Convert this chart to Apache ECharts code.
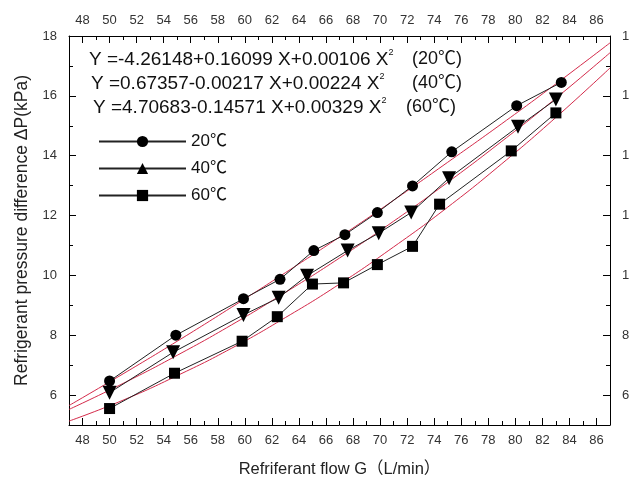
<!DOCTYPE html>
<html>
<head>
<meta charset="utf-8">
<script src="https://cdn.jsdelivr.net/npm/echarts@6/dist/echarts.min.js"></script>
<style>
  html, body { margin: 0; padding: 0; background: #fff; }
  #chart { width: 629px; height: 479px; }
</style>
</head>
<body>
<div id="chart"></div>
<script>
// tick labels
var xTicks = [48, 50, 52, 54, 56, 58, 60, 62, 64, 66, 68, 70, 72, 74, 76, 78, 80, 82, 84, 86];
var xMinor = [49, 51, 53, 55, 57, 59, 61, 63, 65, 67, 69, 71, 73, 75, 77, 79, 81, 83, 85];
var yTicks = [6, 8, 10, 12, 14, 16, 18];
var yMinor = [5, 7, 9, 11, 13, 15, 17];

// measured points
var x20 = [50, 54.9, 59.9, 62.6, 65.1, 67.4, 69.8, 72.4, 75.3, 80.1, 83.4];
var y20 = [6.47, 8.0, 9.22, 9.87, 10.83, 11.36, 12.1, 12.99, 14.13, 15.67, 16.45];
var x40 = [50, 54.7, 59.9, 62.5, 64.6, 67.6, 69.9, 72.3, 75.1, 80.2, 83.0];
var y40 = [6.08, 7.43, 8.68, 9.25, 9.99, 10.83, 11.41, 12.1, 13.25, 14.97, 15.88];
var x60 = [50, 54.8, 59.8, 62.4, 65.0, 67.3, 69.8, 72.4, 74.4, 79.7, 83.0];
var y60 = [5.55, 6.73, 7.8, 8.62, 9.71, 9.75, 10.36, 10.97, 12.38, 14.16, 15.43];

// fitted curves (red)
var xFit = [47, 51, 55, 59, 63, 67, 71, 75, 79, 83, 87];
var fit20 = [5.65, 6.71, 7.80, 8.93, 10.09, 11.28, 12.51, 13.78, 15.07, 16.40, 17.77];
var fit40 = [5.52, 6.39, 7.33, 8.34, 9.43, 10.58, 11.81, 13.11, 14.48, 15.92, 17.44];
var fit60 = [5.13, 5.83, 6.65, 7.56, 8.59, 9.71, 10.95, 12.28, 13.73, 15.28, 16.93];

var names = ['20℃', '40℃', '60℃'];
var equations = [
  'Y =-4.26148+0.16099 X+0.00106 X',
  'Y =0.67357-0.00217 X+0.00224 X',
  'Y =4.70683-0.14571 X+0.00329 X'
];

var FONT = '"Liberation Sans", Arial, "Noto Sans CJK SC", sans-serif';

function pairs(xs, ys) {
  var out = [];
  for (var i = 0; i < xs.length; i++) out.push([xs[i], ys[i]]);
  return out;
}

function xAxisDef(pos, minor, withName) {
  var a = {
    type: 'value', position: pos, min: 47, max: 87, gridIndex: 0,
    axisLine: { show: !minor, onZero: false, lineStyle: { color: '#000', width: 1 } },
    axisTick: { show: true, inside: true, length: minor ? 4 : 7,
      customValues: minor ? xMinor : xTicks, lineStyle: { color: '#000' } },
    axisLabel: { show: !minor, customValues: xTicks, color: '#333', fontSize: 13,
      fontFamily: FONT, margin: 9 },
    splitLine: { show: false }
  };
  if (withName) {
    a.name = 'Refriferant flow G（L/min）';
    a.nameLocation = 'middle';
    a.nameGap = 36;
    a.nameTextStyle = { fontSize: 16.5, color: '#222', fontFamily: FONT };
  }
  return a;
}

function yAxisDef(pos, minor, withName) {
  var a = {
    type: 'value', position: pos, min: 5, max: 18, gridIndex: 0,
    axisLine: { show: !minor, onZero: false, lineStyle: { color: '#000', width: 1 } },
    axisTick: { show: true, inside: true, length: minor ? 4 : 7,
      customValues: minor ? yMinor : yTicks, lineStyle: { color: '#000' } },
    axisLabel: { show: !minor, customValues: yTicks, color: '#333', fontSize: 13,
      fontFamily: FONT, margin: 12 },
    splitLine: { show: false }
  };
  if (withName) {
    a.name = 'Refrigerant pressure difference ΔP(kPa)';
    a.nameLocation = 'middle';
    a.nameGap = 38;
    a.nameTextStyle = { fontSize: 17.5, color: '#222', fontFamily: FONT };
  }
  return a;
}

var chart = echarts.init(document.getElementById('chart'), null, { renderer: 'canvas' });

var eqGraphics = [];
var eqPos = [[89, 48], [91, 72], [93, 96]];
var tagPos = [[412, 50], [412, 74], [406, 98]];
for (var i = 0; i < 3; i++) {
  eqGraphics.push({
    type: 'text', left: eqPos[i][0], top: eqPos[i][1],
    style: {
      text: equations[i] + '{sup|2}',
      fill: '#111', font: '19px ' + FONT,
      rich: { sup: { fontSize: 9, fontFamily: FONT, fill: '#111', padding: [0, 0, 14, 0] } }
    }
  });
  eqGraphics.push({
    type: 'text', left: tagPos[i][0], top: tagPos[i][1],
    style: { text: '(' + names[i] + ')', fill: '#111', font: '18px ' + FONT }
  });
}

var dataStyle = { color: '#000' };
var fitColor = '#d42a4a';

var option = {
  animation: false,
  backgroundColor: '#fff',
  textStyle: { fontFamily: FONT },
  grid: { left: 69, right: 19, top: 36, bottom: 54, containLabel: false, outerBoundsMode: 'none' },
  xAxis: [
    xAxisDef('bottom', false, true),
    xAxisDef('bottom', true, false),
    xAxisDef('top', false, false),
    xAxisDef('top', true, false)
  ],
  yAxis: [
    yAxisDef('left', false, true),
    yAxisDef('left', true, false),
    yAxisDef('right', false, false),
    yAxisDef('right', true, false)
  ],
  legend: {
    orient: 'vertical', left: 98, top: 133, itemGap: 10,
    itemWidth: 87, itemHeight: 14, padding: 0,
    symbolRotate: 0,
    textStyle: { fontSize: 17, color: '#111', fontFamily: FONT },
    data: names
  },
  graphic: eqGraphics,
  series: [
    { name: 'fit20', type: 'line', data: pairs(xFit, fit20), smooth: true, showSymbol: false,
      symbol: 'none', lineStyle: { color: fitColor, width: 1 }, z: 1 },
    { name: 'fit40', type: 'line', data: pairs(xFit, fit40), smooth: true, showSymbol: false,
      symbol: 'none', lineStyle: { color: fitColor, width: 1 }, z: 1 },
    { name: 'fit60', type: 'line', data: pairs(xFit, fit60), smooth: true, showSymbol: false,
      symbol: 'none', lineStyle: { color: fitColor, width: 1 }, z: 1 },
    { name: names[0], type: 'line', data: pairs(x20, y20), symbol: 'circle', symbolSize: 11,
      itemStyle: dataStyle, lineStyle: { color: '#222', width: 1 }, z: 3 },
    { name: names[1], type: 'line', data: pairs(x40, y40), symbol: 'triangle', symbolSize: 14,
      symbolRotate: 180, itemStyle: dataStyle, lineStyle: { color: '#222', width: 1 }, z: 3 },
    { name: names[2], type: 'line', data: pairs(x60, y60), symbol: 'rect', symbolSize: 11,
      itemStyle: dataStyle, lineStyle: { color: '#222', width: 1 }, z: 3 }
  ]
};

chart.setOption(option);
</script>
</body>
</html>
